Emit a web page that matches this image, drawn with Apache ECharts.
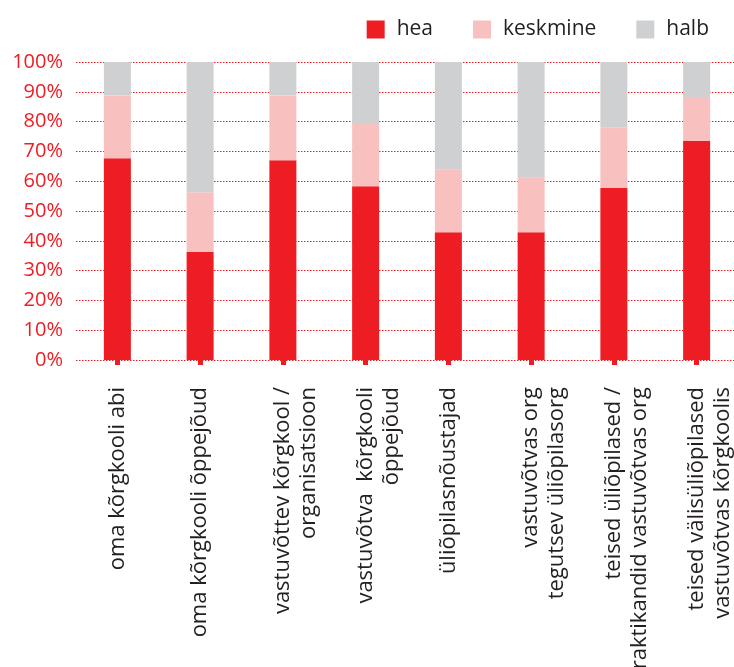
<!DOCTYPE html>
<html>
<head>
<meta charset="utf-8">
<script src="https://cdn.jsdelivr.net/npm/echarts@6/dist/echarts.min.js"></script>
<style>
html,body{margin:0;padding:0;background:#fff;}
#c{width:734px;height:667px;}
</style>
</head>
<body>
<div id="c"></div>
<script>
var categories = [
  'oma kõrgkooli abi',
  'oma kõrgkooli õppejõud',
  'vastuvõttev kõrgkool /\norganisatsioon',
  'vastuvõtva  kõrgkooli\nõppejõud',
  'üliõpilasnõustajad',
  'vastuvõtvas org\ntegutsev üliõpilasorg',
  'teised üliõpilased /\npraktikandid vastuvõtvas org',
  'teised välisüliõpilased\nvastuvõtvas kõrgkoolis'
];
var seriesNames = ['hea', 'keskmine', 'halb'];
var hea = [67.7, 36.2, 67.0, 58.3, 42.9, 42.9, 57.7, 73.5];
var keskmine = [21.1, 20.1, 21.8, 20.9, 21.1, 18.4, 20.2, 14.4];
var halb = [11.2, 43.7, 11.2, 20.8, 36.0, 38.7, 22.1, 12.1];
var yMin = 0, yMax = 100, yStep = 10;

var RED = '#ee1d23', PINK = '#f9c0c0', GREY = '#cfd0d2';
var FONT = '"Open Sans", "Noto Sans", sans-serif';

var chart = echarts.init(document.getElementById('c'));
chart.setOption({
  animation: false,
  textStyle: { fontFamily: FONT },
  legend: {
    data: seriesNames,
    top: 14,
    right: 20,
    icon: 'rect',
    itemWidth: 18,
    itemHeight: 18,
    itemGap: 40,
    textStyle: { fontFamily: FONT, fontSize: 21, color: '#231f20', padding: [0, 0, 0, 7] }
  },
  grid: { left: 76, right: -4, top: 62, bottom: 307, containLabel: false, outerBoundsMode: 'none' },
  xAxis: {
    type: 'category',
    data: categories,
    offset: 12,
    axisLine: { show: false },
    axisTick: { show: true, alignWithLabel: true, length: 5, lineStyle: { color: RED, width: 5 } },
    axisLabel: {
      rotate: 90,
      margin: 15,
      interval: 0,
      fontFamily: FONT,
      fontSize: 22,
      lineHeight: 26,
      color: '#231f20',
      formatter: function (v) { return v.indexOf('\n') >= 0 ? ' \n' + v : v; }
    }
  },
  yAxis: {
    type: 'value',
    min: yMin,
    max: yMax,
    interval: yStep,
    axisLine: { show: false },
    axisTick: { show: false },
    axisLabel: { formatter: '{value}%', color: RED, fontSize: 20, fontFamily: FONT, margin: 13 },
    splitLine: { show: true, lineStyle: { color: RED, width: 1, type: [1.5, 1.5] } }
  },
  series: [
    { name: 'hea', type: 'bar', stack: 's', barWidth: 27, data: hea, itemStyle: { color: RED } },
    { name: 'keskmine', type: 'bar', stack: 's', barWidth: 27, data: keskmine, itemStyle: { color: PINK } },
    { name: 'halb', type: 'bar', stack: 's', barWidth: 27, data: halb, itemStyle: { color: GREY } }
  ]
});
</script>
</body>
</html>
